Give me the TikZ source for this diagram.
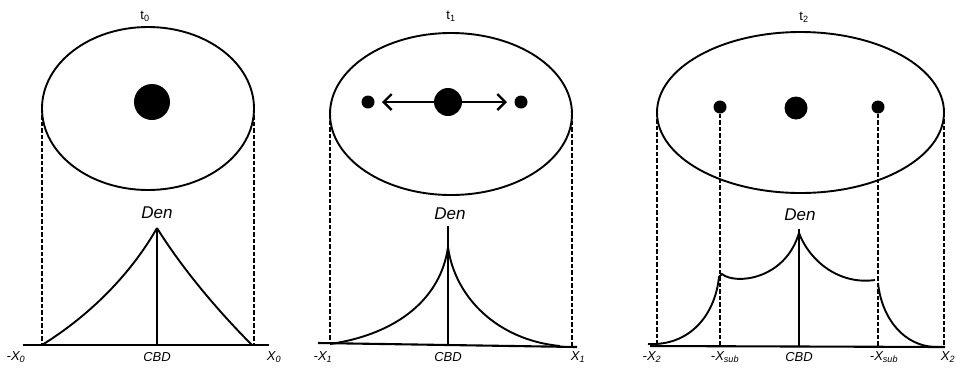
\documentclass[tikz,border=0pt]{standalone}
\usepackage{fontspec}
\setmainfont{Liberation Sans}
\setsansfont{Liberation Sans}
\usetikzlibrary{shapes.geometric,arrows.meta}
\tikzset{
  ell/.style={draw, ellipse, line width=1.9pt, inner sep=0pt, outer sep=0pt},
  dot/.style={circle, fill=black, inner sep=0pt, outer sep=0pt},
  dashln/.style={line width=1.4pt, dash pattern=on 4.5pt off 2pt},
  axis/.style={line width=2.1pt},
  cbdline/.style={line width=1.7pt},
  curve/.style={line width=1.9pt},
  denlab/.style={font=\fontsize{17}{20}\selectfont\itshape},
  axlab/.style={font=\fontsize{13}{15}\selectfont\itshape},
  tlab/.style={font=\fontsize{13}{15}\selectfont},
  arr/.style={line width=2.4pt, -{Straight Barb[length=8pt,width=16pt,line width=2.4pt]}}
}
\begin{document}
\begin{tikzpicture}[x=1pt,y=-1pt]
\useasboundingbox (0,0) rectangle (956,368);
% ---------------- panel t0 ----------------
\node[tlab] (t0) at (145,16) {t\textsubscript{0}};
\node[ell, minimum width=212pt, minimum height=163pt] (e0) at (148,108.5) {};
\node[dot, minimum size=36pt] (c0) at (152,102) {};
\coordinate (a0l) at (23,345);
\coordinate (a0r) at (269,345);
\coordinate (b0l) at (42,345);
\coordinate (b0r) at (254,345);
\coordinate (p0) at (157,228);
\coordinate (q0) at (157,345);
\draw[axis] (a0l) -- (a0r);
\draw[dashln] (e0.west) -- (b0l);
\draw[dashln] (e0.east) -- (b0r);
\draw[cbdline] (p0) -- (q0);
\draw[curve] (b0l) .. controls (92,314) and (132,272) .. (p0);
\draw[curve] (p0) .. controls (178,262) and (212,305) .. (252,345);
\node[denlab] (den0) at (157,213) {Den};
\node[axlab] (cbd0) at (157,357) {CBD};
\node[axlab] (xl0) at (16,357) {-X\textsubscript{0}};
\node[axlab] (xr0) at (274,357) {X\textsubscript{0}};
% ---------------- panel t1 ----------------
\node[tlab] (t1) at (451,16) {t\textsubscript{1}};
\node[ell, minimum width=242pt, minimum height=162pt] (e1) at (451,114) {};
\node[dot, minimum size=28pt] (c1) at (448,102) {};
\node[dot, minimum size=13pt] (s1l) at (368,102) {};
\node[dot, minimum size=13pt] (s1r) at (521,102) {};
\coordinate (h1l) at (382,102);
\coordinate (h1r) at (507,102);
\draw[arr] (c1.center) -- (h1l);
\draw[arr] (c1.center) -- (h1r);
\coordinate (a1l) at (318,343);
\coordinate (a1r) at (577,347);
\coordinate (b1l) at (330,344);
\coordinate (b1r) at (572,347);
\coordinate (p1) at (448,226);
\coordinate (m1) at (448,247);
\coordinate (q1) at (448,345);
\draw[axis] (a1l) -- (a1r);
\draw[dashln] (e1.west) -- (b1l);
\draw[dashln] (e1.east) -- (b1r);
\draw[cbdline] (p1) -- (q1);
\draw[curve] (b1l) .. controls (398,334) and (441,298) .. (m1);
\draw[curve] (m1) .. controls (455,298) and (498,340) .. (560,346);
\node[denlab] (den1) at (450,214) {Den};
\node[axlab] (cbd1) at (448,357) {CBD};
\node[axlab] (xl1) at (323,357) {-X\textsubscript{1}};
\node[axlab] (xr1) at (578,357) {X\textsubscript{1}};
% ---------------- panel t2 ----------------
\node[tlab] (t2) at (804,17) {t\textsubscript{2}};
\node[ell, minimum width=287pt, minimum height=161pt] (e2) at (800.5,112.5) {};
\node[dot, minimum size=23pt] (c2) at (796,108) {};
\node[dot, minimum width=13pt, minimum height=12pt] (s2l) at (720,107) {};
\node[dot, minimum width=13pt, minimum height=12pt] (s2r) at (878,107) {};
\coordinate (a2l) at (650,346);
\coordinate (a2r) at (945,347);
\coordinate (b2l) at (657,346);
\coordinate (b2r) at (944,347);
\coordinate (d2l) at (720,346);
\coordinate (d2r) at (878,347);
\coordinate (p2) at (799,229);
\coordinate (q2) at (799,346);
\draw[axis] (a2l) -- (a2r);
\draw[dashln] (e2.west) -- (b2l);
\draw[dashln] (e2.east) -- (b2r);
\draw[dashln] (s2l.center) -- (d2l);
\draw[dashln] (s2r.center) -- (d2r);
\draw[cbdline] (p2) -- (q2);
\draw[curve] (648,344) .. controls (690,346) and (715,315) .. (719,277) -- (722,274)
   .. controls (735,285) and (785,280) .. (799,233);
\draw[curve] (799,233) .. controls (810,262) and (840,285) .. (875,280);
\draw[curve] (878,283) .. controls (882,320) and (905,346) .. (935,347);
\node[denlab] (den2) at (800,215) {Den};
\node[axlab] (cbd2) at (799,357) {CBD};
\node[axlab] (xl2) at (652,357) {-X\textsubscript{2}};
\node[axlab] (xs2l) at (725,357) {-X\textsubscript{sub}};
\node[axlab] (xs2r) at (884,357) {-X\textsubscript{sub}};
\node[axlab] (xr2) at (948,357) {X\textsubscript{2}};
\end{tikzpicture}
\end{document}
